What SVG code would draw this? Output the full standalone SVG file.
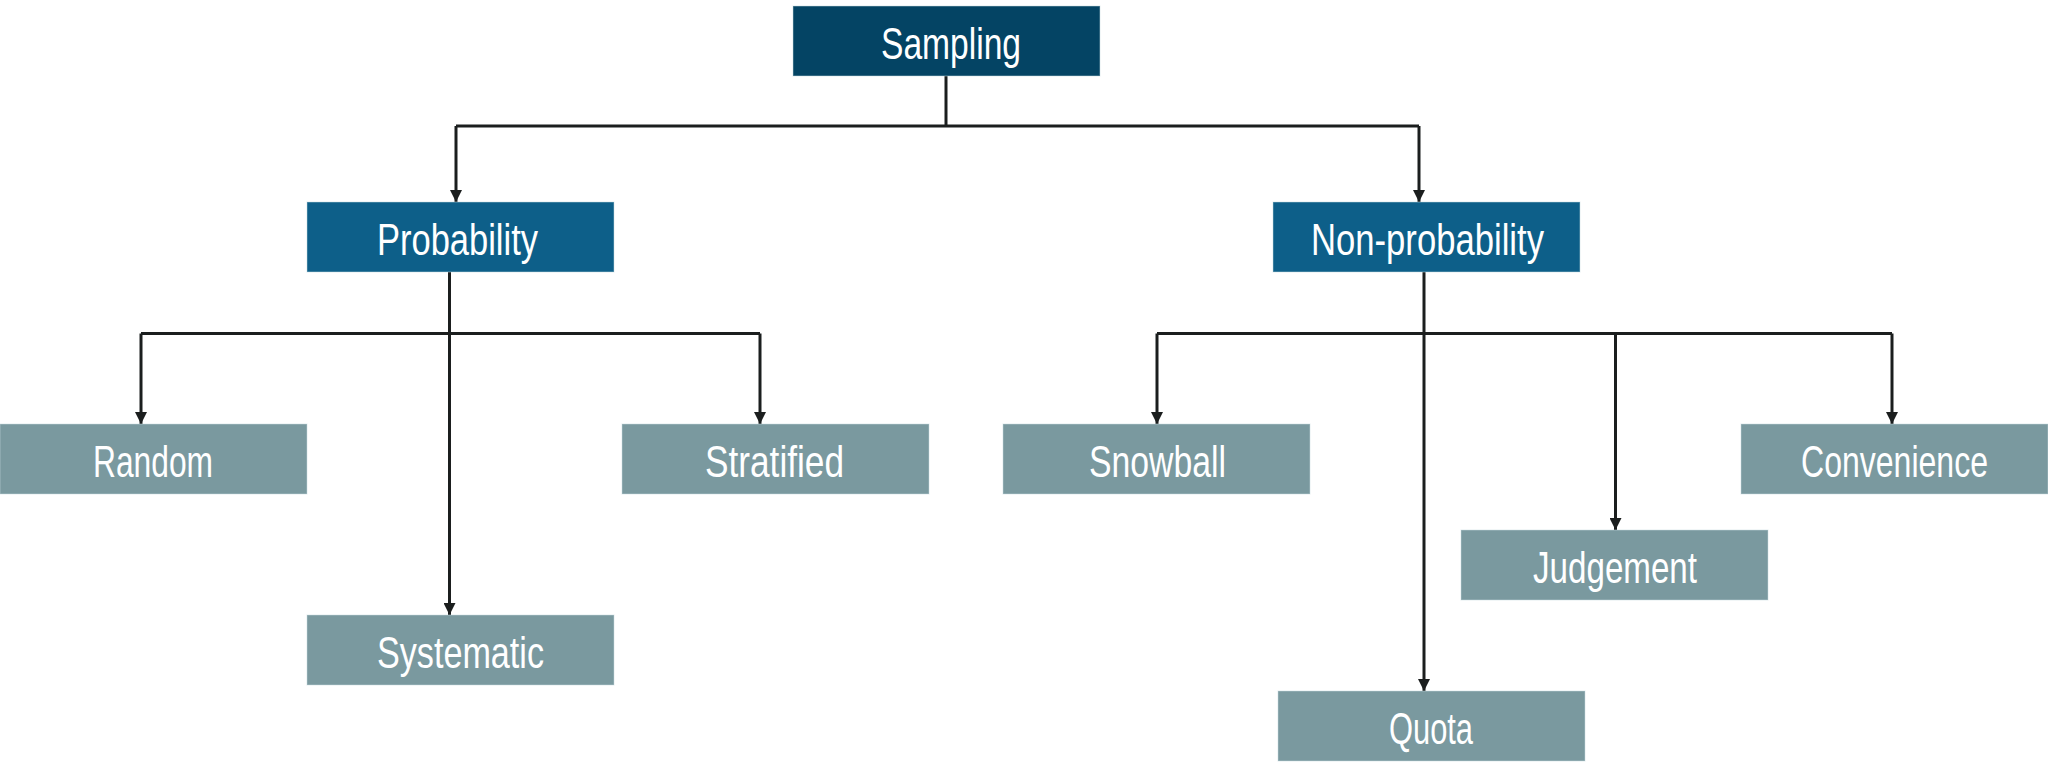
<svg xmlns="http://www.w3.org/2000/svg" width="2048" height="780" viewBox="0 0 2048 780">
<style>
.root{fill:#044464}
.mid{fill:#0d5f89}
.leaf{fill:#7a999f}
.box{stroke:#c9dbe0;stroke-width:1;stroke-opacity:0.5}
.lbl{font-family:"Liberation Sans Narrow","Liberation Sans",Arial,sans-serif;font-size:44px;fill:#ffffff;lengthAdjust:spacingAndGlyphs}
.con{fill:none;stroke:#1b1e1e;stroke-width:3}
</style>
<defs>
<marker id="arr" markerUnits="userSpaceOnUse" markerWidth="12" markerHeight="12" viewBox="0 0 11 11" refX="11" refY="5.5" orient="auto">
<path d="M0,0 L11,5.5 L0,11 z" fill="#1b1e1e"/>
</marker>
</defs>
<rect width="2048" height="780" fill="#ffffff"/>
<g id="connectors">
<path class="con" d="M946,76 V126"/>
<path class="con" d="M456,126 H1419"/>
<path class="con" d="M456,126 V202" marker-end="url(#arr)"/>
<path class="con" d="M1419,126 V202" marker-end="url(#arr)"/>
<path class="con" d="M449.5,272 V615" marker-end="url(#arr)"/>
<path class="con" d="M141,333.5 H760"/>
<path class="con" d="M141,333.5 V424" marker-end="url(#arr)"/>
<path class="con" d="M760,333.5 V424" marker-end="url(#arr)"/>
<path class="con" d="M1424,272 V691" marker-end="url(#arr)"/>
<path class="con" d="M1157,333.5 H1892"/>
<path class="con" d="M1157,333.5 V424" marker-end="url(#arr)"/>
<path class="con" d="M1892,333.5 V424" marker-end="url(#arr)"/>
<path class="con" d="M1615.5,333.5 V530" marker-end="url(#arr)"/>
</g>
<g id="sampling">
<rect class="root box" x="793" y="6" width="307" height="70"/>
<text class="lbl" x="881" y="59" textLength="140" lengthAdjust="spacingAndGlyphs">Sampling</text>
</g>
<g id="probability">
<rect class="mid box" x="307" y="202" width="307" height="70"/>
<text class="lbl" x="377" y="255" textLength="161" lengthAdjust="spacingAndGlyphs">Probability</text>
</g>
<g id="non-probability">
<rect class="mid box" x="1273" y="202" width="307" height="70"/>
<text class="lbl" x="1311" y="255" textLength="233" lengthAdjust="spacingAndGlyphs">Non-probability</text>
</g>
<g id="random">
<rect class="leaf box" x="0" y="424" width="307" height="70"/>
<text class="lbl" x="93" y="477" textLength="120" lengthAdjust="spacingAndGlyphs">Random</text>
</g>
<g id="stratified">
<rect class="leaf box" x="622" y="424" width="307" height="70"/>
<text class="lbl" x="705" y="477" textLength="139" lengthAdjust="spacingAndGlyphs">Stratified</text>
</g>
<g id="systematic">
<rect class="leaf box" x="307" y="615" width="307" height="70"/>
<text class="lbl" x="377" y="668" textLength="167" lengthAdjust="spacingAndGlyphs">Systematic</text>
</g>
<g id="snowball">
<rect class="leaf box" x="1003" y="424" width="307" height="70"/>
<text class="lbl" x="1089" y="477" textLength="137" lengthAdjust="spacingAndGlyphs">Snowball</text>
</g>
<g id="judgement">
<rect class="leaf box" x="1461" y="530" width="307" height="70"/>
<text class="lbl" x="1533" y="583" textLength="164" lengthAdjust="spacingAndGlyphs">Judgement</text>
</g>
<g id="quota">
<rect class="leaf box" x="1278" y="691" width="307" height="70"/>
<text class="lbl" x="1389" y="744" textLength="84" lengthAdjust="spacingAndGlyphs">Quota</text>
</g>
<g id="convenience">
<rect class="leaf box" x="1741" y="424" width="307" height="70"/>
<text class="lbl" x="1801" y="477" textLength="187" lengthAdjust="spacingAndGlyphs">Convenience</text>
</g>
</svg>
